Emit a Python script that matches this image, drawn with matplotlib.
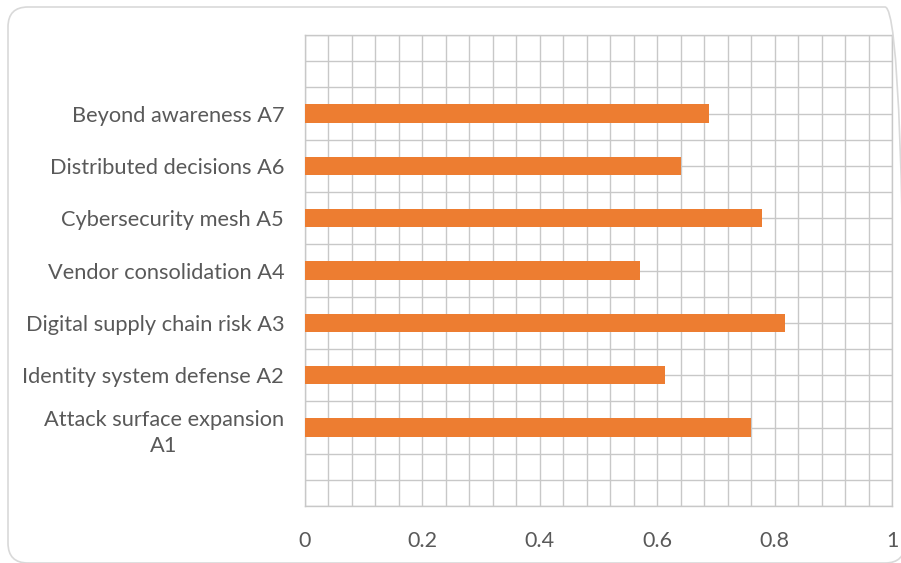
import numpy as np
import matplotlib.pyplot as plt
from matplotlib.patches import FancyBboxPatch
from matplotlib.transforms import IdentityTransform

plt.rcParams['font.family'] = ['Lato', 'DejaVu Sans']

# Trend scores, bottom to top
labels = [
    "Attack surface expansion\nA1",
    "Identity system defense A2",
    "Digital supply chain risk A3",
    "Vendor consolidation A4",
    "Cybersecurity mesh A5",
    "Distributed decisions A6",
    "Beyond awareness A7",
]
scores = [0.76, 0.614, 0.817, 0.57, 0.778, 0.641, 0.688]
x_ticks = [0, 0.2, 0.4, 0.6, 0.8, 1]
x_tick_labels = ["0", "0.2", "0.4", "0.6", "0.8", "1"]

text_color = "#595959"
grid_color = "#C8C8C8"
bar_color = "#ED7D31"

fig = plt.figure(figsize=(9.01, 5.63), dpi=100)
ax = fig.add_axes([0.3385, 0.1012, 0.6515, 0.8366])

# one empty slot above and below the bars
pos = np.arange(1, len(labels) + 1)
ax.barh(pos, scores, height=0.35, color=bar_color, zorder=3)

ax.set_xlim(0, 1)
ax.set_ylim(-0.5, len(labels) + 1.5)

ax.set_xticks(x_ticks)
ax.set_xticklabels(x_tick_labels)
ax.set_xticks(np.arange(0, 1.001, 0.04), minor=True)
ax.set_yticks(pos)
ax.set_yticklabels(labels)
ax.set_yticks(np.arange(-0.5, len(labels) + 1.6, 0.5), minor=True)
for lab in ax.get_yticklabels():
    lab.set_multialignment("center")
    lab.set_linespacing(1.4)

ax.tick_params(which="both", length=0)
ax.tick_params(axis="y", which="major", pad=15, labelsize=15.7, labelcolor=text_color)
ax.tick_params(axis="x", which="major", pad=18, labelsize=15.5, labelcolor=text_color)

ax.grid(which="both", color=grid_color, linewidth=1, zorder=0)
for sp in ax.spines.values():
    sp.set_color(grid_color)
    sp.set_linewidth(1)

# rounded chart-area border
border = FancyBboxPatch((8, 0), 897, 556, boxstyle="round,pad=0,rounding_size=20",
                        transform=IdentityTransform(), facecolor="none",
                        edgecolor="#D9D9D9", linewidth=1.2)
fig.patches.append(border)

fig.savefig("out.png", dpi=100)
